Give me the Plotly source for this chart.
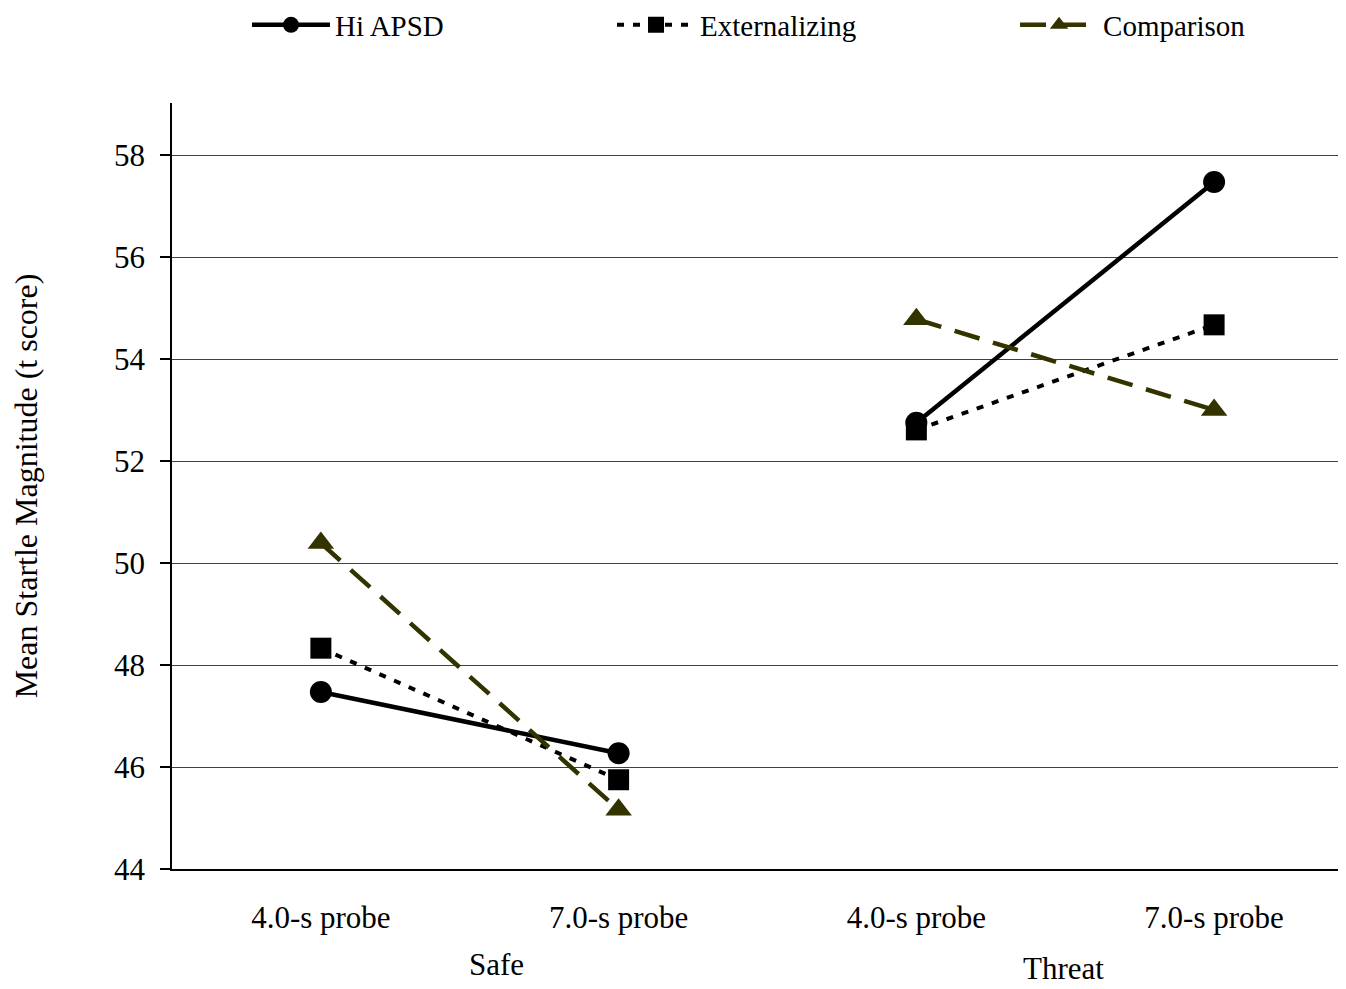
import plotly.graph_objects as go

categories = ["4.0-s probe", "7.0-s probe", "4.0-s probe", "7.0-s probe"]
cat_pos = [0, 1, 2, 3]
groups = ["Safe", "Threat"]
hi_apsd = [47.47, 46.27, 52.75, 57.47]
externalizing = [48.33, 45.75, 52.61, 54.67]
comparison = [50.39, 45.16, 54.78, 53.0]
y_ticks = [44, 46, 48, 50, 52, 54, 56, 58]

FONT = "Liberation Serif, Times New Roman, serif"

series = [
    ("Hi APSD", hi_apsd, dict(color="black", width=4.5), dict(symbol="circle", size=22, color="black"), "legend"),
    ("Externalizing", externalizing, dict(color="black", width=4, dash="7px,9px"),
     dict(symbol="square", size=21, color="black"), "legend2"),
    ("Comparison", comparison, dict(color="#333300", width=4.5, dash="26px,14px"),
     dict(symbol="triangle-up", size=23, color="#333300"), "legend3"),
]

fig = go.Figure()
for name, vals, line, marker, leg in series:
    for gi, (a, b) in enumerate([(0, 2), (2, 4)]):
        fig.add_trace(go.Scatter(x=cat_pos[a:b], y=vals[a:b], name=name, legendgroup=name,
                                 showlegend=(gi == 0), mode="lines+markers", legend=leg,
                                 line=line, marker=marker))

legend_style = dict(orientation="h", xanchor="left", yref="container", y=1 - 17 / 981, yanchor="middle",
                    font=dict(family=FONT, size=29, color="black"),
                    itemwidth=78, bgcolor="rgba(0,0,0,0)")

fig.update_layout(
    width=1338, height=981,
    margin=dict(l=164, r=0, t=95, b=120, autoexpand=False),
    paper_bgcolor="white", plot_bgcolor="white",
    font=dict(family=FONT, size=31, color="black"),
    showlegend=True,
    legend=dict(x=0.0639, **legend_style),
    legend2=dict(x=0.3748, **legend_style),
    legend3=dict(x=0.7181, **legend_style),
    xaxis=dict(range=[-0.5, 3.443], tickvals=cat_pos, ticktext=categories,
               showgrid=False, zeroline=False, showline=True, linecolor="black", linewidth=1.5,
               ticks="", tickfont=dict(family=FONT, size=31), ticklabelstandoff=20),
    yaxis=dict(range=[44, 59.02], tickvals=y_ticks, showgrid=True, gridcolor="#404040", gridwidth=1.2,
               zeroline=False, showline=True, linecolor="black", linewidth=1.5,
               ticks="outside", ticklen=10, tickcolor="black", tickwidth=1.5,
               tickfont=dict(family=FONT, size=31), ticklabelstandoff=9,
               title=dict(text="Mean Startle Magnitude (t score)", font=dict(family=FONT, size=32), standoff=72)),
)

fig.add_annotation(x=(cat_pos[0] + cat_pos[1]) / 2 + 0.09, y=-0.1253, xref="x", yref="paper",
                   yanchor="middle", text=groups[0], showarrow=False, font=dict(family=FONT, size=31))
fig.add_annotation(x=(cat_pos[2] + cat_pos[3]) / 2 - 0.007, y=-0.1305, xref="x", yref="paper",
                   yanchor="middle", text=groups[1], showarrow=False, font=dict(family=FONT, size=31))

fig.write_html("out.html")
